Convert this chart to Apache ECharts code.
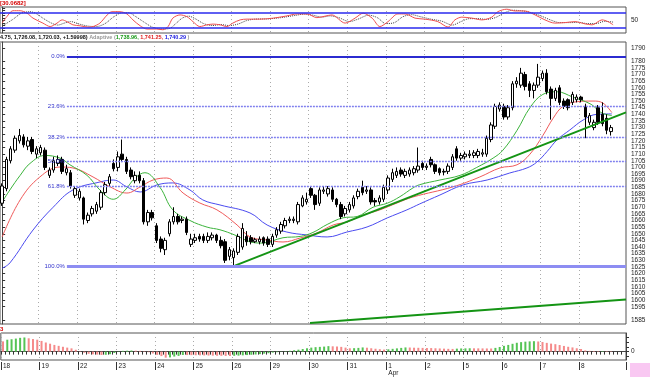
<!DOCTYPE html>
<html>
<head>
<meta charset="utf-8">
<script src="https://cdn.jsdelivr.net/npm/echarts@6/dist/echarts.min.js"></script>
<style>
  html, body { margin: 0; padding: 0; background: #fff; }
  #chart { width: 650px; height: 377px; }
</style>
</head>
<body>
<div id="chart"></div>
<script>
// Hourly chart, 9 bars per session, three stacked panes (oscillator / price / histogram)

const FONT = "Liberation Sans, Arial, sans-serif";

// ---------------------------------------------------------------------------
// Data
// ---------------------------------------------------------------------------
const days = ["18", "19", "22", "23", "24", "25", "26", "29", "30", "31", "1", "2", "5", "6", "7", "8"];
const PER_DAY = 9;
const SLOTS = 146;                 // 143 bars + empty room on the right

// [open, close, low, high]
const candles = [
  [1673,1686,1671,1688],[1684,1706,1682,1708],[1705,1714,1703,1716],[1713,1722,1711,1724],[1720,1724,1718,1729],
  [1723,1717,1715,1725],[1716,1720,1713,1723],[1721,1712,1710,1723],[1710,1714,1707,1716],
  [1711,1715,1709,1717],[1713,1700,1698,1715],[1694,1698,1692,1700],[1698,1705,1696,1708],[1703,1706,1701,1709],
  [1706,1697,1695,1708],[1696,1699,1694,1702],[1696,1686,1684,1698],[1679,1684,1677,1686],
  [1677,1682,1675,1684],[1677,1661,1657,1678],[1660,1664,1658,1666],[1665,1669,1663,1671],[1667,1672,1665,1674],
  [1670,1681,1668,1683],[1681,1687,1679,1689],[1688,1693,1686,1695],[1703,1699,1697,1706],
  [1700,1708,1697,1712],[1710,1706,1704,1721],[1706,1697,1695,1708],[1698,1693,1691,1700],[1690,1694,1688,1697],
  [1694,1690,1688,1697],[1690,1659,1657,1692],[1659,1666,1656,1668],[1666,1662,1660,1668],
  [1656,1645,1643,1658],[1646,1639,1636,1648],[1638,1645,1634,1647],[1650,1659,1648,1661],[1659,1663,1657,1670],
  [1663,1659,1657,1665],[1660,1661,1658,1663],[1661,1651,1649,1663],[1642,1646,1640,1650],
  [1645,1647,1643,1650],[1648,1646,1644,1650],[1648,1645,1643,1650],[1645,1648,1643,1651],[1647,1649,1645,1651],
  [1649,1645,1643,1650],[1645,1641,1639,1648],[1644,1630,1628,1646],[1633,1638,1630,1640],
  [1632,1637,1626,1639],[1636,1648,1634,1650],[1640,1654,1638,1658],[1648,1644,1641,1652],[1647,1644,1642,1649],
  [1644,1645.5,1643,1647],[1644,1646,1642,1648],[1647,1643,1641,1648],[1646,1642,1640,1648],
  [1642,1648,1640,1650],[1649,1653,1647,1655],[1652,1657,1650,1659],[1656,1660,1654,1662],[1660,1661,1658,1663],
  [1660,1661,1658,1663],[1659,1672,1657,1674],[1671,1677,1670,1679],[1674,1676,1672,1681],
  [1684,1679,1677,1686],[1679,1672,1668,1680],[1673,1683,1671,1685],[1682,1683,1680,1686],[1680,1684,1678,1686],
  [1683,1676,1674,1685],[1676,1672,1670,1677],[1672,1663,1661,1674],[1665,1669,1663,1671],
  [1668,1672,1666,1674],[1671,1677,1669,1679],[1678,1682,1676,1684],[1685,1681,1679,1690],[1682,1683,1680,1686],
  [1683,1674,1672,1685],[1675,1674,1671,1677],[1674,1677,1672,1679],[1676,1685,1674,1687],
  [1683,1692,1680,1694],[1691,1696,1689,1699],[1694,1697,1692,1700],[1698,1695,1693,1700],[1694,1697,1692,1699],
  [1695,1698,1693,1700],[1696,1699,1694,1701],[1698,1701,1696,1715],[1703,1700,1698,1705],
  [1700,1701,1698,1703],[1706,1702,1700,1708],[1702,1697,1695,1703],[1699,1696,1694,1700],[1697,1696.5,1694,1699],
  [1697,1701,1695,1703],[1700,1708,1698,1710],[1714,1707,1705,1716],[1707,1709,1705,1711],
  [1708,1710,1706,1712],[1709,1710,1707,1713],[1709,1711,1707,1713],[1709,1712,1707,1714],[1710,1711,1708,1714],
  [1710,1722,1708,1724],[1721,1732,1719,1734],[1731,1746,1729,1748],[1744,1747,1742,1749],
  [1746,1738,1736,1748],[1738,1745,1736,1747],[1745,1763,1743,1765],[1763,1765,1760,1768],[1762,1771,1760,1775],
  [1770,1761,1758,1772],[1763,1758,1753,1765],[1758,1762,1752,1764],[1762,1768,1760,1778],
  [1767,1771,1765,1773],[1771,1757,1755,1774],[1759,1752,1736,1761],[1752,1758,1750,1760],[1760,1749,1747,1762],
  [1750,1746,1744,1752],[1751,1745,1743,1752],[1749,1755,1747,1757],[1751,1753,1749,1755],
  [1753,1751,1749,1754],[1746,1738,1722,1748],[1734,1739,1732,1741],[1730,1734,1728,1736],[1745,1734,1732,1747],
  [1740,1733,1731,1749],[1737,1728,1725,1740],[1727,1730,1724,1732]
];

// Adaptive averages, [bar position, price]
const maGreen = [[0,1674],[1.8,1683],[4.2,1694],[6.5,1703],[10,1709],[13.5,1707],[15.8,1702],[19.8,1694],[22.8,1683],
  [25.9,1676],[28.7,1683],[31,1692],[33.3,1696],[36.8,1685],[39.8,1668],[43.8,1660],[47.8,1655],[50.8,1653],
  [54.3,1649],[57.8,1644],[60.6,1643],[65.5,1647],[69.5,1648],[72.5,1651],[75.8,1657],[79.5,1662],[82.8,1663],
  [86.5,1670],[89.8,1673],[92.8,1678],[95.8,1684.5],[97.4,1687],[102.1,1690.5],[106.8,1694],[110.7,1700],
  [114.5,1707],[116.8,1713],[120.1,1728],[123.1,1745],[126.1,1755],[129.4,1757],[133.1,1753],[137.1,1748],
  [138.7,1744],[139.9,1741],[142.2,1739]];
const maRed = [[0,1647.6],[4.2,1675.5],[8.8,1692.8],[13.5,1700.3],[16.5,1699.6],[21.2,1692.8],[25.2,1685.3],
  [29.1,1680.7],[32.2,1685.3],[35.2,1690.5],[38.4,1692],[42.2,1680.7],[46.1,1673.2],[50.1,1668],[54.8,1656.6],
  [57.8,1647.6],[61.8,1645.3],[65.5,1643.8],[69.5,1646.8],[73.4,1650.6],[77.2,1656.6],[80.4,1658.9],[84.2,1664.1],
  [88.1,1668],[92.1,1673.2],[95.8,1677.7],[105.1,1685.3],[111.4,1692.8],[116.1,1699.6],[120.1,1702],[123.1,1710],
  [126.1,1724],[128.5,1737],[130.8,1746],[134.1,1749.5],[137.8,1750],[140.1,1748.5],[142.2,1741.3]];
const maBlue = [[0,1624],[1.8,1628],[7.2,1652.8],[11.9,1670],[16.5,1683],[22.8,1689],[25.9,1690.5],[29.1,1685.3],
  [32.2,1681.5],[36.1,1686.8],[39.8,1688.3],[43.8,1683],[46.8,1675.5],[50.8,1671.7],[57.8,1665.7],[61.8,1656.6],
  [66.4,1651.3],[71.1,1649.1],[75.8,1647.6],[80.4,1651.3],[85.1,1655.1],[89.8,1661.9],[94.4,1668],[97.4,1672.5],
  [102.1,1679.2],[107.5,1686.8],[113.1,1690.5],[118.4,1695.8],[122.4,1699.6],[124.7,1704],[127.1,1712],
  [129.4,1720.7],[132.4,1728.2],[135.5,1735.7],[138.7,1740],[142.2,1740.3]];

// trend lines
const trendUpper = [[54.3,1626],[145.5,1741.5]];
const trendLower = [[71.8,1582.8],[145.5,1600.5]];

// Fibonacci retracement levels
const fibLabels = ["0.0%", "23.6%", "38.2%", "50.0%", "61.8%", "100.0%"];
const fibPrices = [1783.4, 1745.8, 1722.7, 1704.3, 1685.5, 1625.2];
const fibStart = 15.1;

// wave annotations [bar position, price, text]
const blueNotes = [[3,1742.5,"[a] of Y"],[3.5,1733.5,"(v)"],[1.3,1669.4,"(iv)"],[19.3,1649,"[a]"],[28.5,1725.2,"[b]"],[49.8,1622.7,"[c]"]];
const redNotes = [[3,1738,"(ii)-2"],[56.9,1622.7,"(iv) or [b] of Y"],[124.7,1787,"(v) or [c] of Y-2"]];

// oscillator (top pane)
const oscFast = [[0,40],[1.1,66],[2.5,90],[4.2,90],[5.8,80],[7.2,60],[9.5,40],[11.2,26],[12.8,40],[14,53],[15.1,46],
  [16.5,33],[18.2,29],[20,24],[21.2,26],[22.8,40],[24.5,73],[25.6,86],[27.5,86],[29.1,77],[30.5,53],[32.2,29],
  [33.8,16],[36.1,16],[37.5,13],[38.7,26],[39.8,60],[41.5,73],[43.1,66],[44.5,46],[46.1,26],[47.8,33],[49.2,36],
  [50.8,33],[52.4,26],[53.8,40],[55.5,53],[57.1,56],[60.1,56],[63.2,60],[66.4,69],[68.8,77],[71.1,77],[73.4,62],
  [75.3,68],[76.9,73],[80,40],[82.3,60],[84.2,80],[86.3,60],[88.1,26],[90,46],[92.3,77],[94,77],[96.3,60],
  [98.6,56],[101.6,46],[104,24],[105.6,53],[107.2,64],[109.6,60],[111.9,53],[114.2,64],[115.6,86],[117.7,96],
  [119.6,89],[121.9,89],[124.3,73],[126.6,53],[128.9,40],[131.3,42],[133.6,46],[135.9,37],[137.6,33],[139.9,53],
  [141.3,46],[142.5,33]];
const oscSlow = [[0,28],[2.5,55],[4.5,80],[6.5,86],[8,78],[9.5,60],[11.5,40],[13,32],[14.5,40],[16,46],[18,36],
  [20,28],[22,26],[24,38],[26,65],[28,82],[29.5,82],[31,68],[33,45],[35,24],[37,16],[39,18],[40.5,38],[42,60],
  [43.5,68],[45,58],[47,38],[49,30],[51,34],[53,30],[55,36],[57,50],[59,56],[62,57],[65,62],[68,70],[70.5,76],
  [72.5,72],[74.5,64],[76.5,69],[78.5,62],[81,46],[83,56],[85.5,72],[87.5,62],[89.5,38],[91.5,42],[93.5,66],
  [95.5,74],[97.5,66],[100,56],[102.5,48],[105,32],[107,46],[109,58],[111,58],[113,55],[115,62],[117,80],
  [119,92],[121,90],[123,84],[125.5,70],[128,52],[130,42],[132.5,42],[134.5,43],[136.5,38],[138.5,38],
  [140.5,47],[142.5,44]];
const oscBands = [20, 80];

// histogram (bottom pane), one value per bar
const hist = [11,12.8,13.3,14,14.8,15.2,14.3,13.5,12.8,
  11.5,9.8,8.5,7.2,6.2,5.2,4.3,3.5,2,
  0.4,-1.2,-2.3,-2.9,-3.2,-3.6,-3.4,-2.8,-1.5,
  0.3,0.8,1,1.2,1,0.8,0.5,-0.6,-2,
  -3.5,-4.8,-6.5,-6.2,-5.3,-4.6,-3.6,-3.7,-3.8,
  -3.9,-4,-4.1,-4.2,-4.3,-4.4,-4.5,-4.6,-4.7,
  -4.5,-4.3,-4,-3.7,-3.4,-3.1,-2.7,-2.2,-1.7,
  -1.1,-0.6,-0.2,0.4,0.9,1.5,2.1,2.8,3.6,
  4.3,4.8,5.1,5.4,5.9,5.7,5.5,5.1,4.3,
  3.6,3.7,4,4.5,4.2,3.6,3.1,2.6,2.2,
  2.5,3,3.5,4,4.5,4.4,4.2,4.1,4,
  3.9,3.8,3.6,3.4,3.2,3,2.9,3.2,3.4,
  3.5,3.6,3.55,3.5,3.45,3.4,3.35,4,5,
  6.2,7.2,8.4,9.5,10.2,10.7,11,11.2,10.9,
  10.3,9.4,8.6,8,7.1,6.1,5.2,4.5,3.6,
  2.8,1.3,0.8,0.6,0.5,0.6,0.5,0.4];

// right-hand tick labels
const priceTicks = [1585,1590,1595,1600,1605,1610,1615,1620,1625,1630,1635,1640,1645,1650,1655,1660,1665,1670,
  1675,1680,1685,1690,1695,1700,1705,1710,1715,1720,1725,1730,1735,1740,1745,1750,1755,1760,1765,1770,1775,
  1780,1785,1790];
const oscTicks = [10,20,30,40,50,60,70,80,90,100];
const oscLabels = [50];
const histTicks = [-5,0,5,10,15];
const histLabels = [0];

// ---------------------------------------------------------------------------
// Chart
// ---------------------------------------------------------------------------
const chart = echarts.init(document.getElementById("chart"));

const slots = Array.from({ length: SLOTS }, (_, i) => "b" + i);
const X_MAX = SLOTS - 0.5;
const isDayStart = (i) => i % PER_DAY === 0 && i / PER_DAY < days.length;

const PLOT_W = 626;
const frame = { show: true, borderColor: "#555", borderWidth: 1, backgroundColor: "#fff" };
const daySplit = { show: true, interval: isDayStart, lineStyle: { color: "#aaa", type: [1, 3], width: 1 } };

function hiddenCat(grid) {
  return { gridIndex: grid, type: "category", data: slots, axisLine: { show: false }, axisTick: { show: false },
           axisLabel: { show: false }, splitLine: daySplit };
}
function hiddenVal(grid) {
  return { gridIndex: grid, type: "value", min: -0.5, max: X_MAX, show: false, splitLine: { show: false } };
}
function rightAxis(grid, min, max, ticks, labels) {
  return {
    gridIndex: grid, type: "value", position: "right", min, max, scale: true,
    axisLine: { show: true, lineStyle: { color: "#444", width: 1 } },
    axisTick: { show: true, customValues: ticks, length: 3, lineStyle: { color: "#333" } },
    axisLabel: { show: true, customValues: labels, fontSize: 6.5, color: "#222", fontFamily: FONT, margin: 5,
                 hideOverlap: false, showMinLabel: true, showMaxLabel: true, formatter: (v) => String(v) },
    splitLine: { show: false },
  };
}

const fibLines = fibPrices.map((p, i) => {
  let ls = { color: "#8080ee", width: 1.4, type: [2, 1] };
  if (i === 0) ls = { color: "#2b2bd0", width: 2, type: "solid" };
  if (i === fibPrices.length - 1) ls = { color: "#8d8df2", width: 3, type: "solid" };
  return [
    { coord: [fibStart, p], lineStyle: ls, label: { formatter: fibLabels[i] } },
    { coord: [X_MAX, p] },
  ];
});

function noteSeries(list, color) {
  return {
    type: "scatter", xAxisIndex: 3, yAxisIndex: 1, data: list, symbolSize: 1,
    itemStyle: { opacity: 0 }, silent: true, z: 6,
    label: { show: true, position: "inside", formatter: (p) => p.data[2], color, fontSize: 6,
             fontFamily: FONT, fontWeight: "bold" },
  };
}

const option = {
  animation: false,
  backgroundColor: "#fff",
  title: [
    { text: "[30.0682]", left: 0, top: 0, padding: 0,
      textStyle: { color: "#d40000", fontSize: 6, fontFamily: FONT, fontWeight: "bold" } },
    { text: "{k|4.75, 1,726.08, 1,720.03, +1.59998)} {a|Adaptive (}{g|1,738.96,} {r|1,741.25,} {b|1,740.29}{a| )}",
      left: 0, top: 34, padding: 0,
      textStyle: { fontSize: 5.5, fontFamily: FONT,
        rich: {
          k: { color: "#111", fontSize: 5.5, fontFamily: FONT, fontWeight: "bold" },
          a: { color: "#999", fontSize: 5.5, fontFamily: FONT },
          g: { color: "#1a9a1a", fontSize: 5.5, fontFamily: FONT, fontWeight: "bold" },
          r: { color: "#e02020", fontSize: 5.5, fontFamily: FONT, fontWeight: "bold" },
          b: { color: "#2020e0", fontSize: 5.5, fontFamily: FONT, fontWeight: "bold" },
        } } },
    { text: "3", left: 0, top: 326, padding: 0,
      textStyle: { color: "#d40000", fontSize: 6, fontFamily: FONT } },
  ],
  graphic: [
    { type: "rect", shape: { x: 630, y: 363, width: 20, height: 14 }, style: { fill: "#f9c8f2" }, silent: true },
  ],
  grid: [
    Object.assign({ left: 0, width: PLOT_W, top: 7, height: 26 }, frame),
    Object.assign({ left: 0, width: PLOT_W, top: 42, height: 282 }, frame),
    Object.assign({ left: 0, width: PLOT_W, top: 333, height: 29 }, frame),
  ],
  xAxis: [
    hiddenCat(0), hiddenVal(0),
    hiddenCat(1), hiddenVal(1),
    {
      gridIndex: 2, type: "category", data: slots, position: "bottom",
      axisLine: { show: true, lineStyle: { color: "#444" } },
      axisTick: { show: true, interval: 0, length: 3, lineStyle: { color: "#333" } },
      axisLabel: {
        show: true, interval: isDayStart, align: "left", margin: 3, fontSize: 6.5, lineHeight: 7,
        color: "#222", fontFamily: FONT,
        formatter: (v, i) => { const d = days[i / PER_DAY]; return d === "1" ? "1\nApr" : d; },
      },
      splitLine: daySplit,
    },
    {
      // longer ticks at each session start, drawn along the bottom edge
      gridIndex: 2, type: "category", data: slots, position: "top", offset: -29,
      axisLine: { show: false },
      axisTick: { show: true, inside: true, interval: isDayStart, length: 8, lineStyle: { color: "#333" } },
      axisLabel: { show: false }, splitLine: { show: false },
    },
  ],
  yAxis: [
    rightAxis(0, 0, 105, oscTicks, oscLabels),
    rightAxis(1, 1582, 1794.5, priceTicks, priceTicks),
    rightAxis(2, -9, 20, histTicks, histLabels),
  ],
  series: [
    // top pane
    {
      type: "line", xAxisIndex: 1, yAxisIndex: 0, data: oscSlow, smooth: 0.3, showSymbol: false, silent: true,
      lineStyle: { color: "#444", width: 1, type: [1, 1] },
      markLine: {
        silent: true, symbol: ["none", "none"], label: { show: false },
        lineStyle: { color: "#2a2aee", width: 1.5, type: "solid" },
        data: oscBands.map((v) => ({ yAxis: v })),
      },
    },
    {
      type: "line", xAxisIndex: 1, yAxisIndex: 0, data: oscFast, smooth: 0.3, showSymbol: false, silent: true,
      lineStyle: { color: "#f05050", width: 1 },
    },
    // price pane
    {
      type: "line", xAxisIndex: 3, yAxisIndex: 1, data: [], silent: true,
      markLine: {
        silent: true, symbol: ["none", "none"], data: fibLines,
        label: { show: true, position: "start", distance: 2, color: "#3333cc", fontSize: 6, fontFamily: FONT },
      },
    },
    { type: "line", xAxisIndex: 3, yAxisIndex: 1, data: maBlue, smooth: 0.4, showSymbol: false, silent: true,
      lineStyle: { color: "#4b4bf0", width: 1 }, z: 2 },
    { type: "line", xAxisIndex: 3, yAxisIndex: 1, data: maRed, smooth: 0.4, showSymbol: false, silent: true,
      lineStyle: { color: "#f05a5a", width: 1 }, z: 2 },
    { type: "line", xAxisIndex: 3, yAxisIndex: 1, data: maGreen, smooth: 0.4, showSymbol: false, silent: true,
      lineStyle: { color: "#3cb43c", width: 1 }, z: 2 },
    { type: "line", xAxisIndex: 3, yAxisIndex: 1, data: trendUpper, showSymbol: false, silent: true,
      lineStyle: { color: "#149414", width: 2 }, z: 4 },
    { type: "line", xAxisIndex: 3, yAxisIndex: 1, data: trendLower, showSymbol: false, silent: true,
      lineStyle: { color: "#149414", width: 2 }, z: 4 },
    {
      type: "candlestick", xAxisIndex: 2, yAxisIndex: 1, data: candles, barWidth: 3, silent: true, z: 3,
      itemStyle: { color: "#fff", color0: "#000", borderColor: "#000", borderColor0: "#000", borderWidth: 1 },
    },
    noteSeries(blueNotes, "#1010cc"),
    noteSeries(redNotes, "#dd1010"),
    // bottom pane
    {
      type: "bar", xAxisIndex: 4, yAxisIndex: 2, data: hist, barWidth: 2, silent: true,
      itemStyle: { color: (p) => (p.dataIndex > 0 && hist[p.dataIndex] > hist[p.dataIndex - 1]) ? "#55c455" : "#f58a8a" },
    },
  ],
};

chart.setOption(option);
window.addEventListener("resize", () => chart.resize());
</script>
</body>
</html>
